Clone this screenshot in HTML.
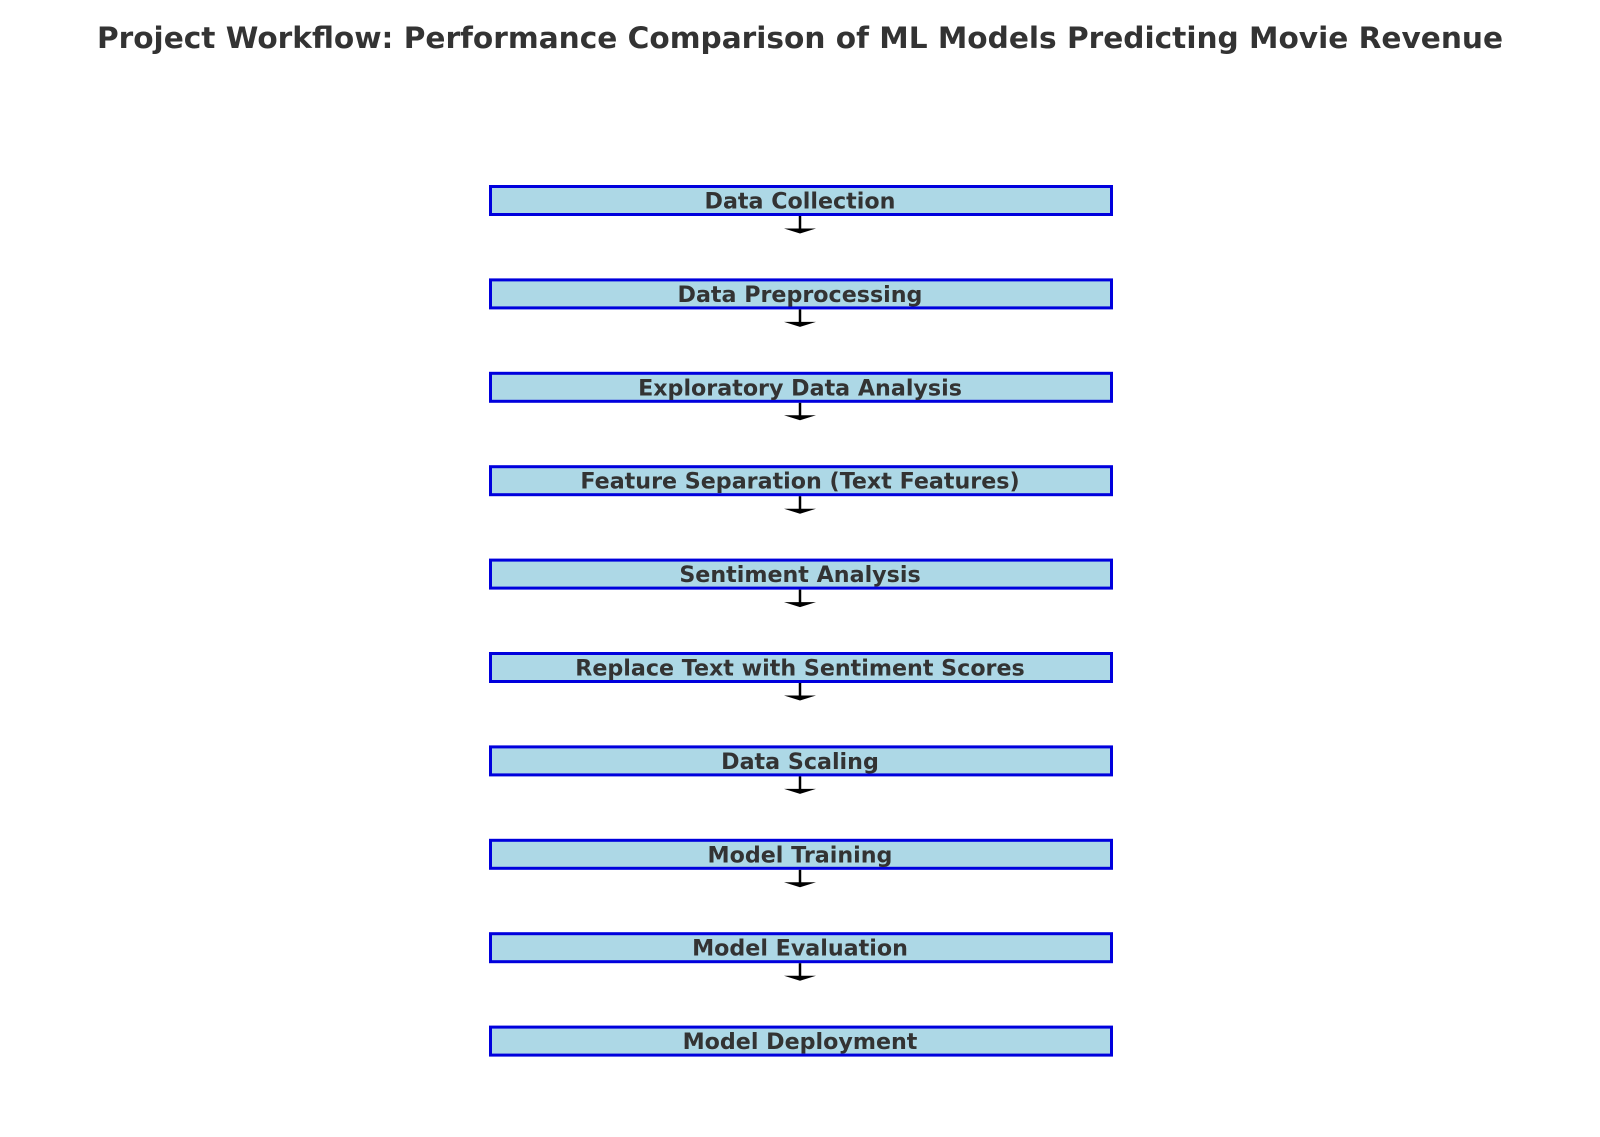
<!DOCTYPE html>
<html><head><meta charset="utf-8"><style>
body{margin:0;background:#fff;}
svg{display:block;font-family:"DejaVu Sans","Liberation Sans",sans-serif;}
</style></head><body>
<svg id="chart" width="1600" height="1137">
<text x="800" y="48" text-anchor="middle" font-size="29.6" font-weight="bold" fill="#333">Project Workflow: Performance Comparison of ML Models Predicting Movie Revenue</text>
<g id="steps"></g>
</svg>
<script>
const steps = ["Data Collection","Data Preprocessing","Exploratory Data Analysis","Feature Separation (Text Features)","Sentiment Analysis","Replace Text with Sentiment Scores","Data Scaling","Model Training","Model Evaluation","Model Deployment"];
const ns="http://www.w3.org/2000/svg";
const g=document.getElementById('steps');
const top0=186.5, gap=93.4, x0=490.5, w=621, h=28, cx=800;
function mk(t,a){const e=document.createElementNS(ns,t);for(const k in a)e.setAttribute(k,a[k]);return e;}
steps.forEach((s,i)=>{
  const y=top0+i*gap;
  const r=mk('rect',{x:x0,y:y,width:w,height:h,fill:'#add8e6',stroke:'#0000dd','stroke-width':3});
  
  
  g.appendChild(r);
  const t=mk('text',{x:cx,y:y+h/2+8,'text-anchor':'middle','font-size':'22.2','font-weight':'bold',fill:'#333'});
  t.textContent=s;
  
  
  g.appendChild(t);
  if(i<steps.length-1){
    const l=mk('line',{x1:cx,y1:y+h+1.5,x2:cx,y2:y+h+15,stroke:'#000','stroke-width':2.5});
    
    
    g.appendChild(l);
    const p=mk('polygon',{points:`${cx-16},${y+h+14} ${cx+16},${y+h+14} ${cx},${y+h+19}`,fill:'#000'});
    
    
    g.appendChild(p);
  }
});
</script>
</body></html>
